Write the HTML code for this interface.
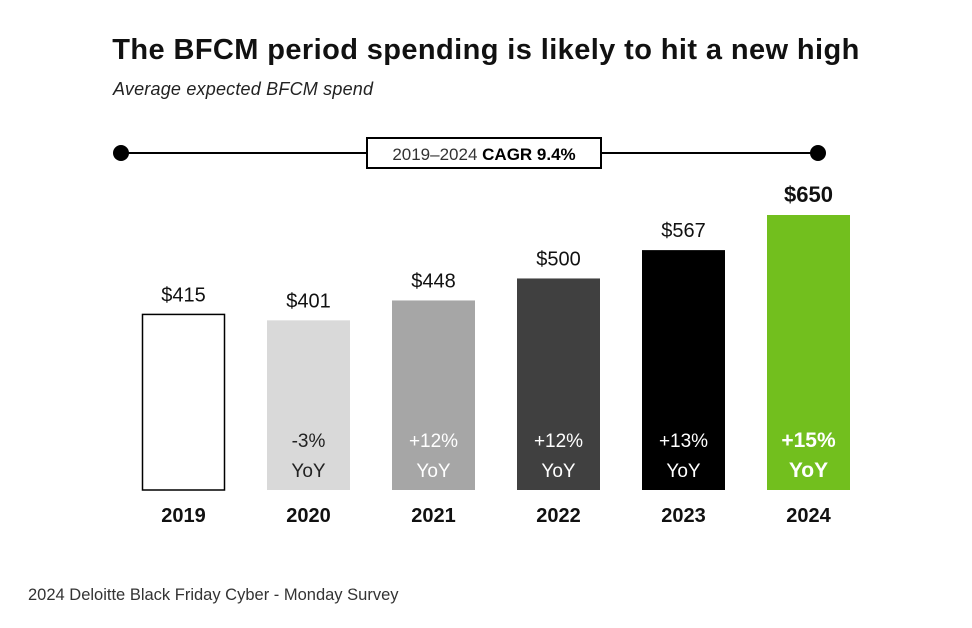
<!DOCTYPE html>
<html><head><meta charset="utf-8"><style>
body{margin:0;background:#fff;width:972px;height:628px;overflow:hidden;font-family:"Liberation Sans",sans-serif;}
svg{display:block}
</style></head><body>
<svg id="c" width="972" height="628">
<text x="486" y="59" text-anchor="middle" font-size="29" font-weight="bold" letter-spacing="0.4" fill="#111">The BFCM period spending is likely to hit a new high</text>
<text x="113" y="95" font-size="18" font-style="italic" letter-spacing="0.2" fill="#222">Average expected BFCM spend</text>
<g>
<line x1="121" y1="153" x2="818" y2="153" stroke="#000" stroke-width="2"/>
<circle cx="121" cy="153" r="8" fill="#000"/>
<circle cx="818" cy="153" r="8" fill="#000"/>
<rect x="367" y="138" width="234" height="30" fill="#fff" stroke="#000" stroke-width="2"/>
<text x="484" y="160" text-anchor="middle" font-size="17" fill="#333">2019–2024 <tspan font-weight="bold" fill="#000">CAGR 9.4%</tspan></text>
</g>
<g id="bars"></g>
<text x="28" y="600" font-size="16.5" fill="#333">2024 Deloitte Black Friday Cyber - Monday Survey</text>
</svg>
<script>
const years=["2019","2020","2021","2022","2023","2024"];
const spend=[415,401,448,500,567,650];
const yoy=["","-3%","+12%","+12%","+13%","+15%"];
const fills=["#fff","#d9d9d9","#a6a6a6","#404040","#000","#72bf1e"];
const base=490, k=275/650;
const y=v=>base-v*k;
const x=i=>142+i*125;
const bw=83;
const g=document.getElementById('bars');
const NS="http://www.w3.org/2000/svg";
function mk(t,a){const e=document.createElementNS(NS,t);for(const n in a)e.setAttribute(n,a[n]);return e;}
years.forEach((yr,i)=>{
  const last=i===years.length-1;
  const r=mk('rect',{x:x(i)+(i==0?0.5:0),y:y(spend[i]),width:bw-(i==0?1:0),height:base-y(spend[i]),fill:fills[i],stroke:i==0?'#000':'none','stroke-width':i==0?1.5:0});
  
  
  g.appendChild(r);
  const cx=x(i)+bw/2;
  const v=mk('text',{x:cx,y:y(spend[i])-13,'text-anchor':'middle','font-size':last?22:20,'font-weight':last?'bold':'normal',fill:'#111'});
  v.textContent='$'+spend[i];
  
  
  g.appendChild(v);
  if(yoy[i]){
    const col=i==1?'#222':'#fff';
    const t=mk('text',{x:cx,y:447,'text-anchor':'middle','font-size':last?21:19,'font-weight':last?'bold':'normal',fill:col});
    t.textContent=yoy[i];
    
    
    g.appendChild(t);
    const t2=mk('text',{x:cx,y:477,'text-anchor':'middle','font-size':last?21:19,'font-weight':last?'bold':'normal',fill:col});
    t2.textContent='YoY';
    
    
    g.appendChild(t2);
  }
  const l=mk('text',{x:cx,y:522,'text-anchor':'middle','font-size':20,'font-weight':'bold',fill:'#111'});
  l.textContent=yr;
  
  
  g.appendChild(l);
});
</script>
</body></html>
